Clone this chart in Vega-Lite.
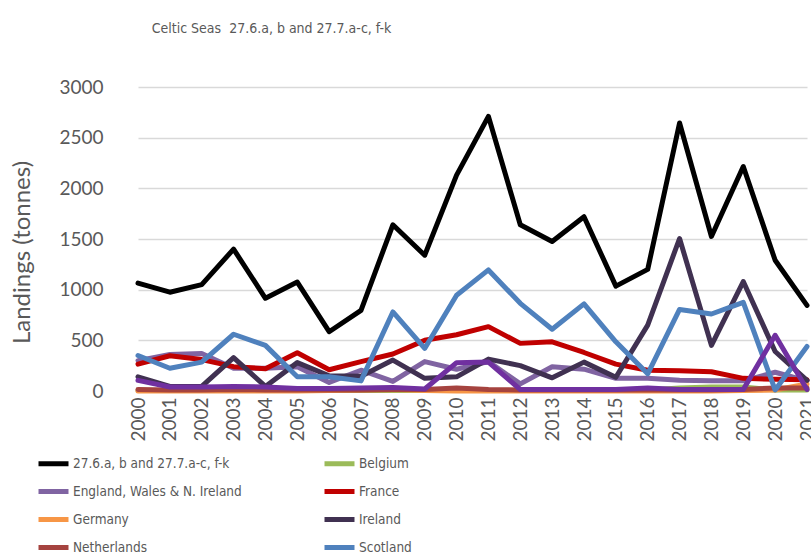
{
  "$schema": "https://vega.github.io/schema/vega-lite/v6.json",
  "autosize": "none",
  "width": 689,
  "height": 304,
  "padding": {"left": 122, "top": 87, "right": 0, "bottom": 163},
  "background": "white",
  "title": {
    "text": "Celtic Seas \u00a027.6.a, b and 27.7.a-c, f-k",
    "font": "DejaVu Sans Condensed",
    "fontSize": 14,
    "fontWeight": "normal",
    "color": "#595959",
    "anchor": "middle",
    "frame": "group",
    "dx": -195,
    "offset": 31,
    "baseline": "alphabetic"
  },
  "datasets": {
    "landings": [
      {"year": 2000, "country": "27.6.a, b and 27.7.a-c, f-k", "t": 1065},
      {"year": 2001, "country": "27.6.a, b and 27.7.a-c, f-k", "t": 975},
      {"year": 2002, "country": "27.6.a, b and 27.7.a-c, f-k", "t": 1050},
      {"year": 2003, "country": "27.6.a, b and 27.7.a-c, f-k", "t": 1400},
      {"year": 2004, "country": "27.6.a, b and 27.7.a-c, f-k", "t": 915},
      {"year": 2005, "country": "27.6.a, b and 27.7.a-c, f-k", "t": 1075},
      {"year": 2006, "country": "27.6.a, b and 27.7.a-c, f-k", "t": 585},
      {"year": 2007, "country": "27.6.a, b and 27.7.a-c, f-k", "t": 795},
      {"year": 2008, "country": "27.6.a, b and 27.7.a-c, f-k", "t": 1640},
      {"year": 2009, "country": "27.6.a, b and 27.7.a-c, f-k", "t": 1340},
      {"year": 2010, "country": "27.6.a, b and 27.7.a-c, f-k", "t": 2130},
      {"year": 2011, "country": "27.6.a, b and 27.7.a-c, f-k", "t": 2710},
      {"year": 2012, "country": "27.6.a, b and 27.7.a-c, f-k", "t": 1640},
      {"year": 2013, "country": "27.6.a, b and 27.7.a-c, f-k", "t": 1475},
      {"year": 2014, "country": "27.6.a, b and 27.7.a-c, f-k", "t": 1720},
      {"year": 2015, "country": "27.6.a, b and 27.7.a-c, f-k", "t": 1035},
      {"year": 2016, "country": "27.6.a, b and 27.7.a-c, f-k", "t": 1200},
      {"year": 2017, "country": "27.6.a, b and 27.7.a-c, f-k", "t": 2645},
      {"year": 2018, "country": "27.6.a, b and 27.7.a-c, f-k", "t": 1525},
      {"year": 2019, "country": "27.6.a, b and 27.7.a-c, f-k", "t": 2215},
      {"year": 2020, "country": "27.6.a, b and 27.7.a-c, f-k", "t": 1290},
      {"year": 2021, "country": "27.6.a, b and 27.7.a-c, f-k", "t": 845},

      {"year": 2000, "country": "Belgium", "t": 5},
      {"year": 2001, "country": "Belgium", "t": 5},
      {"year": 2002, "country": "Belgium", "t": 5},
      {"year": 2003, "country": "Belgium", "t": 5},
      {"year": 2004, "country": "Belgium", "t": 5},
      {"year": 2005, "country": "Belgium", "t": 5},
      {"year": 2006, "country": "Belgium", "t": 5},
      {"year": 2007, "country": "Belgium", "t": 5},
      {"year": 2008, "country": "Belgium", "t": 5},
      {"year": 2009, "country": "Belgium", "t": 5},
      {"year": 2010, "country": "Belgium", "t": 5},
      {"year": 2011, "country": "Belgium", "t": 5},
      {"year": 2012, "country": "Belgium", "t": 5},
      {"year": 2013, "country": "Belgium", "t": 5},
      {"year": 2014, "country": "Belgium", "t": 5},
      {"year": 2015, "country": "Belgium", "t": 5},
      {"year": 2016, "country": "Belgium", "t": 10},
      {"year": 2017, "country": "Belgium", "t": 30},
      {"year": 2018, "country": "Belgium", "t": 40},
      {"year": 2019, "country": "Belgium", "t": 40},
      {"year": 2020, "country": "Belgium", "t": 10},
      {"year": 2021, "country": "Belgium", "t": 10},

      {"year": 2000, "country": "England, Wales & N. Ireland", "t": 300},
      {"year": 2001, "country": "England, Wales & N. Ireland", "t": 360},
      {"year": 2002, "country": "England, Wales & N. Ireland", "t": 370},
      {"year": 2003, "country": "England, Wales & N. Ireland", "t": 225},
      {"year": 2004, "country": "England, Wales & N. Ireland", "t": 225},
      {"year": 2005, "country": "England, Wales & N. Ireland", "t": 240},
      {"year": 2006, "country": "England, Wales & N. Ireland", "t": 85},
      {"year": 2007, "country": "England, Wales & N. Ireland", "t": 205},
      {"year": 2008, "country": "England, Wales & N. Ireland", "t": 95},
      {"year": 2009, "country": "England, Wales & N. Ireland", "t": 290},
      {"year": 2010, "country": "England, Wales & N. Ireland", "t": 215},
      {"year": 2011, "country": "England, Wales & N. Ireland", "t": 290},
      {"year": 2012, "country": "England, Wales & N. Ireland", "t": 70},
      {"year": 2013, "country": "England, Wales & N. Ireland", "t": 240},
      {"year": 2014, "country": "England, Wales & N. Ireland", "t": 215},
      {"year": 2015, "country": "England, Wales & N. Ireland", "t": 125},
      {"year": 2016, "country": "England, Wales & N. Ireland", "t": 125},
      {"year": 2017, "country": "England, Wales & N. Ireland", "t": 105},
      {"year": 2018, "country": "England, Wales & N. Ireland", "t": 100},
      {"year": 2019, "country": "England, Wales & N. Ireland", "t": 100},
      {"year": 2020, "country": "England, Wales & N. Ireland", "t": 185},
      {"year": 2021, "country": "England, Wales & N. Ireland", "t": 100},

      {"year": 2000, "country": "France", "t": 265},
      {"year": 2001, "country": "France", "t": 348},
      {"year": 2002, "country": "France", "t": 310},
      {"year": 2003, "country": "France", "t": 240},
      {"year": 2004, "country": "France", "t": 220},
      {"year": 2005, "country": "France", "t": 378},
      {"year": 2006, "country": "France", "t": 210},
      {"year": 2007, "country": "France", "t": 290},
      {"year": 2008, "country": "France", "t": 365},
      {"year": 2009, "country": "France", "t": 500},
      {"year": 2010, "country": "France", "t": 555},
      {"year": 2011, "country": "France", "t": 635},
      {"year": 2012, "country": "France", "t": 470},
      {"year": 2013, "country": "France", "t": 485},
      {"year": 2014, "country": "France", "t": 380},
      {"year": 2015, "country": "France", "t": 265},
      {"year": 2016, "country": "France", "t": 205},
      {"year": 2017, "country": "France", "t": 200},
      {"year": 2018, "country": "France", "t": 190},
      {"year": 2019, "country": "France", "t": 125},
      {"year": 2020, "country": "France", "t": 115},
      {"year": 2021, "country": "France", "t": 110},

      {"year": 2000, "country": "Germany", "t": 0},
      {"year": 2001, "country": "Germany", "t": 0},
      {"year": 2002, "country": "Germany", "t": 0},
      {"year": 2003, "country": "Germany", "t": 0},
      {"year": 2004, "country": "Germany", "t": 0},
      {"year": 2005, "country": "Germany", "t": 0},
      {"year": 2006, "country": "Germany", "t": 5},
      {"year": 2007, "country": "Germany", "t": 10},
      {"year": 2008, "country": "Germany", "t": 15},
      {"year": 2009, "country": "Germany", "t": 5},
      {"year": 2010, "country": "Germany", "t": 0},
      {"year": 2011, "country": "Germany", "t": 0},
      {"year": 2012, "country": "Germany", "t": 0},
      {"year": 2013, "country": "Germany", "t": 0},
      {"year": 2014, "country": "Germany", "t": 0},
      {"year": 2015, "country": "Germany", "t": 0},
      {"year": 2016, "country": "Germany", "t": 0},
      {"year": 2017, "country": "Germany", "t": 0},
      {"year": 2018, "country": "Germany", "t": 0},
      {"year": 2019, "country": "Germany", "t": 5},
      {"year": 2020, "country": "Germany", "t": 10},
      {"year": 2021, "country": "Germany", "t": 70},

      {"year": 2000, "country": "Ireland", "t": 140},
      {"year": 2001, "country": "Ireland", "t": 45},
      {"year": 2002, "country": "Ireland", "t": 45},
      {"year": 2003, "country": "Ireland", "t": 330},
      {"year": 2004, "country": "Ireland", "t": 45},
      {"year": 2005, "country": "Ireland", "t": 280},
      {"year": 2006, "country": "Ireland", "t": 150},
      {"year": 2007, "country": "Ireland", "t": 145},
      {"year": 2008, "country": "Ireland", "t": 305},
      {"year": 2009, "country": "Ireland", "t": 125},
      {"year": 2010, "country": "Ireland", "t": 140},
      {"year": 2011, "country": "Ireland", "t": 315},
      {"year": 2012, "country": "Ireland", "t": 250},
      {"year": 2013, "country": "Ireland", "t": 130},
      {"year": 2014, "country": "Ireland", "t": 285},
      {"year": 2015, "country": "Ireland", "t": 135},
      {"year": 2016, "country": "Ireland", "t": 650},
      {"year": 2017, "country": "Ireland", "t": 1505},
      {"year": 2018, "country": "Ireland", "t": 450},
      {"year": 2019, "country": "Ireland", "t": 1080},
      {"year": 2020, "country": "Ireland", "t": 390},
      {"year": 2021, "country": "Ireland", "t": 105},

      {"year": 2000, "country": "Netherlands", "t": 15},
      {"year": 2001, "country": "Netherlands", "t": 10},
      {"year": 2002, "country": "Netherlands", "t": 10},
      {"year": 2003, "country": "Netherlands", "t": 15},
      {"year": 2004, "country": "Netherlands", "t": 10},
      {"year": 2005, "country": "Netherlands", "t": 10},
      {"year": 2006, "country": "Netherlands", "t": 10},
      {"year": 2007, "country": "Netherlands", "t": 10},
      {"year": 2008, "country": "Netherlands", "t": 15},
      {"year": 2009, "country": "Netherlands", "t": 15},
      {"year": 2010, "country": "Netherlands", "t": 30},
      {"year": 2011, "country": "Netherlands", "t": 15},
      {"year": 2012, "country": "Netherlands", "t": 10},
      {"year": 2013, "country": "Netherlands", "t": 10},
      {"year": 2014, "country": "Netherlands", "t": 10},
      {"year": 2015, "country": "Netherlands", "t": 10},
      {"year": 2016, "country": "Netherlands", "t": 10},
      {"year": 2017, "country": "Netherlands", "t": 10},
      {"year": 2018, "country": "Netherlands", "t": 10},
      {"year": 2019, "country": "Netherlands", "t": 15},
      {"year": 2020, "country": "Netherlands", "t": 30},
      {"year": 2021, "country": "Netherlands", "t": 30},

      {"year": 2000, "country": "Scotland", "t": 350},
      {"year": 2001, "country": "Scotland", "t": 225},
      {"year": 2002, "country": "Scotland", "t": 285},
      {"year": 2003, "country": "Scotland", "t": 560},
      {"year": 2004, "country": "Scotland", "t": 450},
      {"year": 2005, "country": "Scotland", "t": 140},
      {"year": 2006, "country": "Scotland", "t": 140},
      {"year": 2007, "country": "Scotland", "t": 100},
      {"year": 2008, "country": "Scotland", "t": 780},
      {"year": 2009, "country": "Scotland", "t": 420},
      {"year": 2010, "country": "Scotland", "t": 945},
      {"year": 2011, "country": "Scotland", "t": 1195},
      {"year": 2012, "country": "Scotland", "t": 865},
      {"year": 2013, "country": "Scotland", "t": 610},
      {"year": 2014, "country": "Scotland", "t": 860},
      {"year": 2015, "country": "Scotland", "t": 485},
      {"year": 2016, "country": "Scotland", "t": 170},
      {"year": 2017, "country": "Scotland", "t": 805},
      {"year": 2018, "country": "Scotland", "t": 760},
      {"year": 2019, "country": "Scotland", "t": 875},
      {"year": 2020, "country": "Scotland", "t": 10},
      {"year": 2021, "country": "Scotland", "t": 440},

      {"year": 2000, "country": "Spain", "t": 105},
      {"year": 2001, "country": "Spain", "t": 40},
      {"year": 2002, "country": "Spain", "t": 40},
      {"year": 2003, "country": "Spain", "t": 45},
      {"year": 2004, "country": "Spain", "t": 40},
      {"year": 2005, "country": "Spain", "t": 25},
      {"year": 2006, "country": "Spain", "t": 25},
      {"year": 2007, "country": "Spain", "t": 30},
      {"year": 2008, "country": "Spain", "t": 35},
      {"year": 2009, "country": "Spain", "t": 20},
      {"year": 2010, "country": "Spain", "t": 280},
      {"year": 2011, "country": "Spain", "t": 285},
      {"year": 2012, "country": "Spain", "t": 15},
      {"year": 2013, "country": "Spain", "t": 15},
      {"year": 2014, "country": "Spain", "t": 15},
      {"year": 2015, "country": "Spain", "t": 15},
      {"year": 2016, "country": "Spain", "t": 30},
      {"year": 2017, "country": "Spain", "t": 15},
      {"year": 2018, "country": "Spain", "t": 15},
      {"year": 2019, "country": "Spain", "t": 15},
      {"year": 2020, "country": "Spain", "t": 550},
      {"year": 2021, "country": "Spain", "t": 15}
    ]
  },
  "data": {"name": "landings"},
  "mark": {"type": "line", "strokeWidth": 5, "strokeJoin": "round", "strokeCap": "round"},
  "encoding": {
    "x": {
      "field": "year",
      "type": "ordinal",
      "scale": {"type": "point", "range": [16, 685], "padding": 0},
      "axis": {
        "title": null,
        "labelAngle": -90,
        "labelFont": "Lato",
        "labelFontSize": 19,
        "labelColor": "#595959",
        "labelPadding": 6,
        "ticks": false,
        "domain": false,
        "grid": false
      }
    },
    "y": {
      "field": "t",
      "type": "quantitative",
      "scale": {"domain": [0, 3000], "nice": false},
      "axis": {
        "title": "Landings (tonnes)",
        "titleFont": "Lato",
        "titleFontSize": 24,
        "titleFontWeight": "normal",
        "titleColor": "#595959",
        "titleAngle": -90,
        "titleAlign": "center",
        "titleBaseline": "middle",
        "titleX": -100,
        "titleY": 165,
        "values": [0, 500, 1000, 1500, 2000, 2500, 3000],
        "format": "d",
        "labelFont": "Lato",
        "labelFontSize": 19,
        "labelColor": "#595959",
        "labelPadding": 19,
        "ticks": false,
        "domain": false,
        "grid": true,
        "gridColor": "#D9D9D9",
        "gridWidth": 1.5
      }
    },
    "color": {
      "field": "country",
      "type": "nominal",
      "scale": {
        "domain": ["27.6.a, b and 27.7.a-c, f-k", "England, Wales & N. Ireland", "Germany", "Netherlands", "Spain", "Belgium", "France", "Ireland", "Scotland"],
        "range": ["#000000", "#8064A2", "#F79646", "#A5433F", "#7030A0", "#9BBB59", "#C00000", "#403151", "#4F81BD"]
      },
      "legend": {
        "title": null,
        "orient": "none",
        "legendX": -86,
        "legendY": 359,
        "columns": 2,
        "gridAlign": "all",
        "columnPadding": 72,
        "rowPadding": 0,
        "symbolType": "stroke",
        "symbolStrokeWidth": 5,
        "symbolSize": 900,
        "labelOffset": 2,
        "labelFont": "DejaVu Sans Condensed",
        "labelFontSize": 13.5,
        "labelColor": "#595959",
        "labelLimit": 400
      }
    }
  },
  "config": {
    "view": {"stroke": null}
  }
}
